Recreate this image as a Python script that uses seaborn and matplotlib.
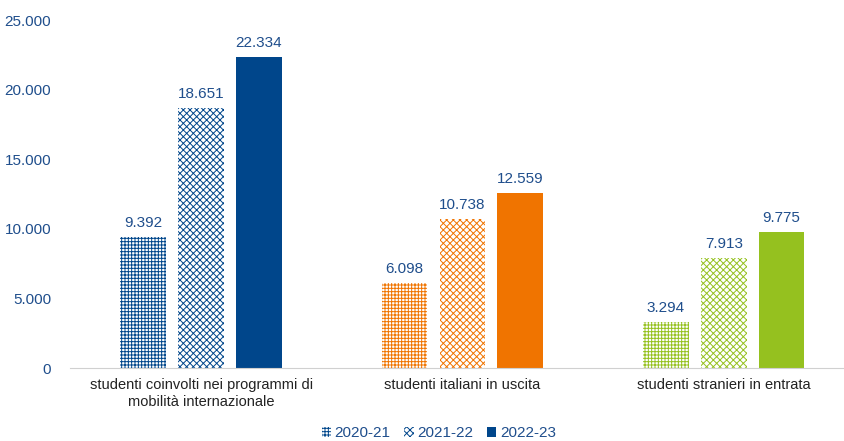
import matplotlib
matplotlib.use("Agg")
import matplotlib.pyplot as plt
import seaborn as sns
import pandas as pd
from matplotlib.patches import Patch

categories = ["studenti coinvolti nei programmi di\nmobilità internazionale",
              "studenti italiani in uscita",
              "studenti stranieri in entrata"]
years = ["2020-21", "2021-22", "2022-23"]
v_2020 = [9392, 6098, 3294]
v_2021 = [18651, 10738, 7913]
v_2022 = [22334, 12559, 9775]
group_colors = ["#00468B", "#F07400", "#95C11F"]

df = pd.DataFrame({
    "cat": categories * 3,
    "year": [years[0]] * 3 + [years[1]] * 3 + [years[2]] * 3,
    "val": v_2020 + v_2021 + v_2022,
})

sns.set_style("white")
plt.rcParams['font.family'] = ['Liberation Sans', 'DejaVu Sans']
plt.rcParams['hatch.linewidth'] = 0.7

fig = plt.figure(figsize=(8.44, 4.41), dpi=100)
ax = fig.add_axes([0.0835, 0.1655, 0.9165, 0.789])
sns.barplot(data=df, x="cat", y="val", hue="year", width=0.664, gap=0.21,
            palette=["#888888"] * 3, legend=False, ax=ax)

label_col = "#1F4E8C"
hatches = ["+++++", "xxxxx"]
for hi, cont in enumerate(ax.containers):
    for ci, bar in enumerate(cont.patches):
        c = group_colors[ci]
        if hi < 2:
            bar.set_facecolor("white")
            bar.set_edgecolor(c)
            bar.set_hatch(hatches[hi])
            bar.set_linewidth(0)
        else:
            bar.set_facecolor(c)
            bar.set_edgecolor(c)
            bar.set_linewidth(0)
        h = bar.get_height()
        ax.text(bar.get_x() + bar.get_width() / 2, h + 500,
                f"{h:,.0f}".replace(",", "."), ha="center", va="bottom",
                fontsize=11, color=label_col)

ax.set_ylim(0, 25000)
ax.set_xlim(-0.5, 2.46)
ax.set_yticks(range(0, 25001, 5000))
ax.set_yticklabels([f"{t:,}".replace(",", ".") if t else "0" for t in range(0, 25001, 5000)],
                   color=label_col, fontsize=11)
ax.tick_params(axis="y", length=0, pad=14)
ax.tick_params(axis="x", length=0, pad=7, labelsize=10.5, labelcolor="#222222")
for t in ax.get_xticklabels():
    t.set_linespacing(1.3)
ax.set_xlabel("")
ax.set_ylabel("")
for s in ["top", "right", "left"]:
    ax.spines[s].set_visible(False)
ax.spines["bottom"].set_color("#D0D0D0")

handles = [Patch(facecolor="white", edgecolor="#00468B", hatch="+++++", linewidth=0),
           Patch(facecolor="white", edgecolor="#00468B", hatch="xxxxx", linewidth=0),
           Patch(facecolor="#00468B", linewidth=0)]
fig.legend(handles, years, loc="lower center", bbox_to_anchor=(0.52, -0.03), ncol=3,
           frameon=False, fontsize=11, labelcolor=label_col, handlelength=0.6,
           handleheight=0.6, handletextpad=0.25, columnspacing=0.9)

fig.savefig("out.png", dpi=100)
